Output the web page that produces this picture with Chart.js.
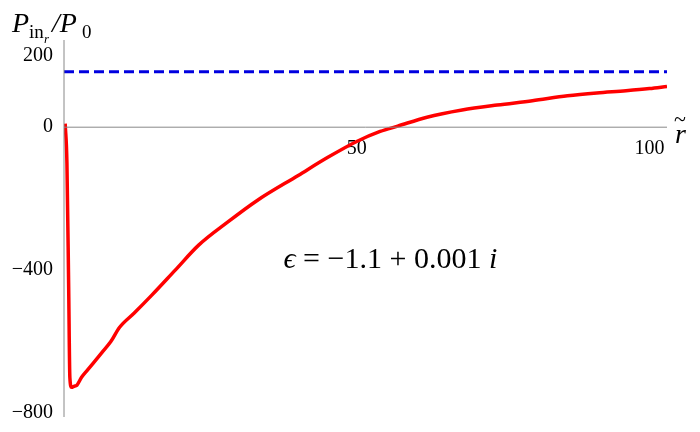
<!DOCTYPE html>
<html><head><script src="https://cdn.jsdelivr.net/npm/chart.js@4"></script>
<style>body{margin:0;background:#fff}</style></head>
<body><canvas id="c" width="700" height="432"></canvas>
<script>
const rVals=[0.2,0.5,0.8,1.0,1.3,1.7,2.2,3,4,5,6.5,8,9.5,12,15,19,23,28,33,40,45,50,54,57,62,68,74,80,86,91,96,100,103];
const pVals=[10,-100,-450,-700,-728,-725,-722,-700,-680,-660,-630,-600,-560,-520,-470,-400,-330,-265,-205,-135,-85,-40,-12,3,28,48,62,74,88,96,102,108,114];
const refLevel=155;
const yTicks=[-800,-400,0,200];
const xTicks=[50,100];
const data=rVals.map((r,i)=>({x:r,y:pVals[i]}));
const axes={id:'axes',afterDraw(c){const g=c.ctx,x=c.scales.x,y=c.scales.y;g.save();g.strokeStyle='#888';g.lineWidth=1;
g.beginPath();g.moveTo(x.left,y.getPixelForValue(0));g.lineTo(x.right,y.getPixelForValue(0));
g.moveTo(x.getPixelForValue(0),y.top);g.lineTo(x.getPixelForValue(0),y.bottom);g.stroke();
g.fillStyle='#000';let px=x.getPixelForValue(37.5),py=y.getPixelForValue(-395);
const parts=[['italic 30px "Liberation Serif"','ϵ'],['30px "Liberation Serif"',' = −1.1 + 0.001 '],['italic 30px "Liberation Serif"','i']];
for(const [f,t] of parts){g.font=f;g.fillText(t,px,py);px+=g.measureText(t).width;}
g.font='italic 28px "Liberation Serif"';g.fillText('P',12,32);g.font='19px "Liberation Serif"';g.fillText('in',29,38);
g.font='italic 13px "Liberation Serif"';g.fillText('r',44,43);g.font='italic 28px "Liberation Serif"';g.fillText('/P',52,32);
g.font='19px "Liberation Serif"';g.fillText('0',82,38);
g.font='italic 28px "Liberation Serif"';g.fillText('r',675,143);g.font='22px "Liberation Serif"';g.fillText('~',674,126);
g.restore();}};
new Chart(document.getElementById('c'),{type:'scatter',data:{datasets:[
{data,showLine:true,borderColor:'#f00',borderWidth:3.5,pointRadius:0,cubicInterpolationMode:'monotone'},
{data:[{x:0,y:refLevel},{x:103,y:refLevel}],showLine:true,borderColor:'#0000e0',borderWidth:3,borderDash:[10,5],pointRadius:0}]},
options:{animation:false,responsive:false,maintainAspectRatio:false,devicePixelRatio:1,
layout:{padding:{left:0,right:33,top:40,bottom:12}},
plugins:{legend:{display:false},tooltip:{enabled:false}},
scales:{x:{type:'linear',min:0,max:103,position:{y:0},grid:{display:false},border:{display:false},
afterBuildTicks:s=>{s.ticks=xTicks.map(v=>({value:v}))},ticks:{color:'#000',font:{family:'Liberation Serif',size:20},padding:2}},
y:{min:-811,max:244,grid:{display:false},border:{display:false},afterFit:s=>{s.width=64},
afterBuildTicks:s=>{s.ticks=yTicks.map(v=>({value:v}))},ticks:{color:'#000',font:{family:'Liberation Serif',size:20},callback:v=>v<0?'−'+(-v):v}}}}
,plugins:[axes]});
</script></body></html>
